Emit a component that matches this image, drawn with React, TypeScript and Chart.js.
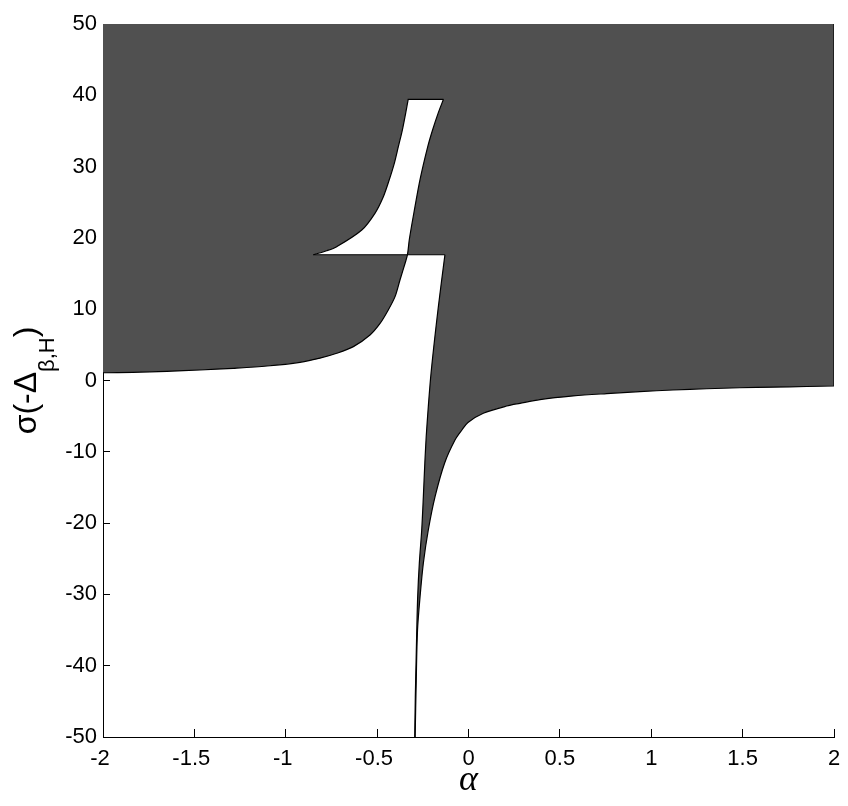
import React, { useEffect, useRef } from 'react';
import { Chart, registerables } from 'chart.js';

Chart.register(...registerables);

// ---- axes / labels ----
const xTickValues = [-2, -1.5, -1, -0.5, 0, 0.5, 1, 1.5, 2];
const xTickLabels = ['-2', '-1.5', '-1', '-0.5', '0', '0.5', '1', '1.5', '2'];
const yTickValues = [-50, -40, -30, -20, -10, 0, 10, 20, 30, 40, 50];
const yTickLabels = ['-50', '-40', '-30', '-20', '-10', '0', '10', '20', '30', '40', '50'];

const xTitle = 'α';
const yTitleMain = 'σ(-Δ';
const yTitleSub = 'β,H';
const yTitleEnd = ')';

const alphaRange = [-2, 2];
const sigmaRange = [-50, 50];

// ---- region boundaries (alpha, sigma) ----
const leftBranchAlpha = [-2, -1.836, -1.65, -1.469, -1.288, -1.102, -0.922, -0.813, -0.721, -0.63, -0.539, -0.484, -0.439, -0.402, -0.375, -0.347, -0.334];
const leftBranchSigma = [1.09, 1.15, 1.29, 1.47, 1.71, 2.03, 2.55, 3.13, 3.82, 4.75, 6.38, 8.0, 9.89, 11.76, 14.1, 16.45, 17.64];

const upperBranchAlpha = [-0.334, -0.324, -0.299, -0.265, -0.223, -0.197, -0.166, -0.137];
const upperBranchSigma = [17.64, 19.74, 23.49, 28.2, 32.8, 35.1, 37.5, 39.44];

const loopLeftAlpha = [-0.849, -0.776, -0.721, -0.584, -0.512, -0.466, -0.434, -0.406, -0.384, -0.362, -0.344, -0.33];
const loopLeftSigma = [17.64, 18.2, 18.77, 21.11, 23.45, 25.78, 28.12, 30.46, 32.79, 35.13, 37.48, 39.44];

const stepAlpha = [-0.849, -0.129];
const stepSigma = [17.64, 17.64];

const wallAlpha = [-0.129, -0.165, -0.205, -0.229, -0.239, -0.247, -0.256, -0.269, -0.278, -0.283, -0.287, -0.291, -0.294];
const wallSigma = [17.64, 10.35, 1.01, -6.94, -11.6, -16.3, -20.97, -25.6, -30.3, -35.0, -39.7, -44.4, -50];

const rightBranchAlpha = [-0.292, -0.286, -0.279, -0.265, -0.247, -0.22, -0.183, -0.131, -0.074, -0.036, -0.003, 0.081, 0.209, 0.282, 0.391, 0.573, 0.756, 0.938, 1.12, 1.303, 1.485, 1.667, 1.85, 2];
const rightBranchSigma = [-50, -42, -35, -30.3, -25.6, -20.97, -16.3, -11.6, -8.35, -6.94, -5.89, -4.6, -3.58, -3.2, -2.68, -2.17, -1.84, -1.56, -1.33, -1.16, -1.02, -0.93, -0.84, -0.77];

type P = { x: number; y: number };
const zip = (a: number[], s: number[]): P[] => a.map((v, i) => ({ x: v, y: s[i] }));
const rev = (p: P[]) => p.slice().reverse();
const first = (p: P[]) => p[0];
const last = (p: P[]) => p[p.length - 1];

const GRAY = '#505050';
const FONT = '"Liberation Sans", Arial, Helvetica, sans-serif';
const TENSION = 0.3;

export default function App() {
  const ref = useRef<HTMLCanvasElement | null>(null);

  useEffect(() => {
    if (!ref.current) return;
    const left = zip(leftBranchAlpha, leftBranchSigma);
    const upper = zip(upperBranchAlpha, upperBranchSigma);
    const loopL = zip(loopLeftAlpha, loopLeftSigma);
    const step = zip(stepAlpha, stepSigma);
    const wall = zip(wallAlpha, wallSigma);
    const right = zip(rightBranchAlpha, rightBranchSigma);
    const topRight = { x: alphaRange[1], y: sigmaRange[1] };
    const topLeft = { x: alphaRange[0], y: sigmaRange[1] };

    // corner points repeated so the spline keeps sharp corners
    const grayPoly: P[] = [
      topLeft, topRight, topRight,
      last(right), ...rev(right), first(right),
      last(wall), ...rev(wall), first(wall),
      last(left), ...rev(left), first(left),
    ];
    const holePoly: P[] = [first(loopL), ...loopL, last(loopL), last(upper), ...rev(upper), first(upper)];

    const lineDs = (data: P[]) => ({
      data,
      borderColor: '#000',
      borderWidth: 1.2,
      backgroundColor: 'transparent',
      fill: false,
      pointRadius: 0,
      tension: TENSION,
      order: 0,
    });
    const fillDs = (data: P[], color: string, order: number) => ({
      data,
      borderColor: 'transparent',
      borderWidth: 0,
      backgroundColor: color,
      fill: 'shape',
      pointRadius: 0,
      tension: TENSION,
      order,
    });

    const labelPlugin = {
      id: 'axisTitles',
      afterDraw(chart: any) {
        const ctx = chart.ctx as CanvasRenderingContext2D;
        const a = chart.chartArea;
        ctx.save();
        ctx.fillStyle = '#000';
        ctx.textBaseline = 'alphabetic';
        ctx.textAlign = 'center';
        ctx.font = 'italic 36px "Liberation Serif", serif';
        ctx.fillText(xTitle, (a.left + a.right) / 2, 790);

        ctx.textAlign = 'left';
        const mainFont = `32px ${FONT}`;
        const subFont = `22px ${FONT}`;
        ctx.font = mainFont;
        const w1 = ctx.measureText(yTitleMain).width;
        const w3 = ctx.measureText(yTitleEnd).width;
        ctx.font = subFont;
        const w2 = ctx.measureText(yTitleSub).width;
        const total = w1 + w2 + w3;
        ctx.translate(36, (a.top + a.bottom) / 2);
        ctx.rotate(-Math.PI / 2);
        const s = -total / 2;
        ctx.font = mainFont;
        ctx.fillText(yTitleMain, s, 0);
        ctx.font = subFont;
        ctx.fillText(yTitleSub, s + w1, 18);
        ctx.font = mainFont;
        ctx.fillText(yTitleEnd, s + w1 + w2, 0);
        ctx.restore();
      },
    };

    const zeroPad = (scale: any) => {
      scale.paddingTop = 0;
      scale.paddingBottom = 0;
      scale.paddingLeft = 0;
      scale.paddingRight = 0;
    };

    const chart = new Chart(ref.current, {
      type: 'line',
      data: {
        datasets: [
          lineDs([...left, ...upper.slice(1)]) as any,
          lineDs([...loopL, last(loopL), last(upper)]) as any,
          lineDs(step) as any,
          lineDs(wall) as any,
          lineDs([...right, last(right), topRight]) as any,
          fillDs(holePoly, '#ffffff', 1) as any,
          fillDs(grayPoly, GRAY, 2) as any,
        ],
      },
      options: {
        animation: false,
        responsive: false,
        devicePixelRatio: 1,
        events: [],
        layout: { padding: { left: 0, right: 14, top: 24, bottom: 0 } },
        plugins: { legend: { display: false }, tooltip: { enabled: false } },
        scales: {
          x: {
            type: 'linear',
            min: alphaRange[0],
            max: alphaRange[1],
            afterBuildTicks: (scale: any) => {
              scale.ticks = xTickValues.map((v) => ({ value: v }));
            },
            ticks: {
              autoSkip: false,
              maxRotation: 0,
              color: '#000',
              padding: 17,
              font: { family: FONT, size: 22 },
              callback: (v: any) => {
                const i = xTickValues.indexOf(Number(v));
                if (i < 0) return '';
                const t = xTickLabels[i];
                return t.startsWith('-') ? t + ' ' : t;
              },
            },
            grid: { drawOnChartArea: false, drawTicks: true, tickLength: -8, color: '#000', lineWidth: 1 },
            border: { display: true, color: '#000', width: 1 },
            afterFit: (scale: any) => {
              scale.height = 69;
              zeroPad(scale);
            },
          },
          y: {
            type: 'linear',
            min: sigmaRange[0],
            max: sigmaRange[1],
            afterBuildTicks: (scale: any) => {
              scale.ticks = yTickValues.map((v) => ({ value: v }));
            },
            ticks: {
              autoSkip: false,
              color: '#000',
              padding: 13,
              font: { family: FONT, size: 22 },
              callback: (v: any) => {
                const i = yTickValues.indexOf(Number(v));
                return i >= 0 ? yTickLabels[i] : '';
              },
            },
            grid: { drawOnChartArea: false, drawTicks: true, tickLength: -7, color: '#000', lineWidth: 1 },
            border: { display: true, color: '#000', width: 1 },
            afterFit: (scale: any) => {
              scale.width = 103;
              zeroPad(scale);
            },
          },
        },
      },
      plugins: [labelPlugin],
    } as any);
    return () => chart.destroy();
  }, []);

  return (
    <div style={{ position: 'fixed', left: 0, top: 0, width: 848, height: 806, background: '#fff' }}>
      <canvas ref={ref} width={848} height={806} style={{ display: 'block', width: 848, height: 806 }} />
    </div>
  );
}
